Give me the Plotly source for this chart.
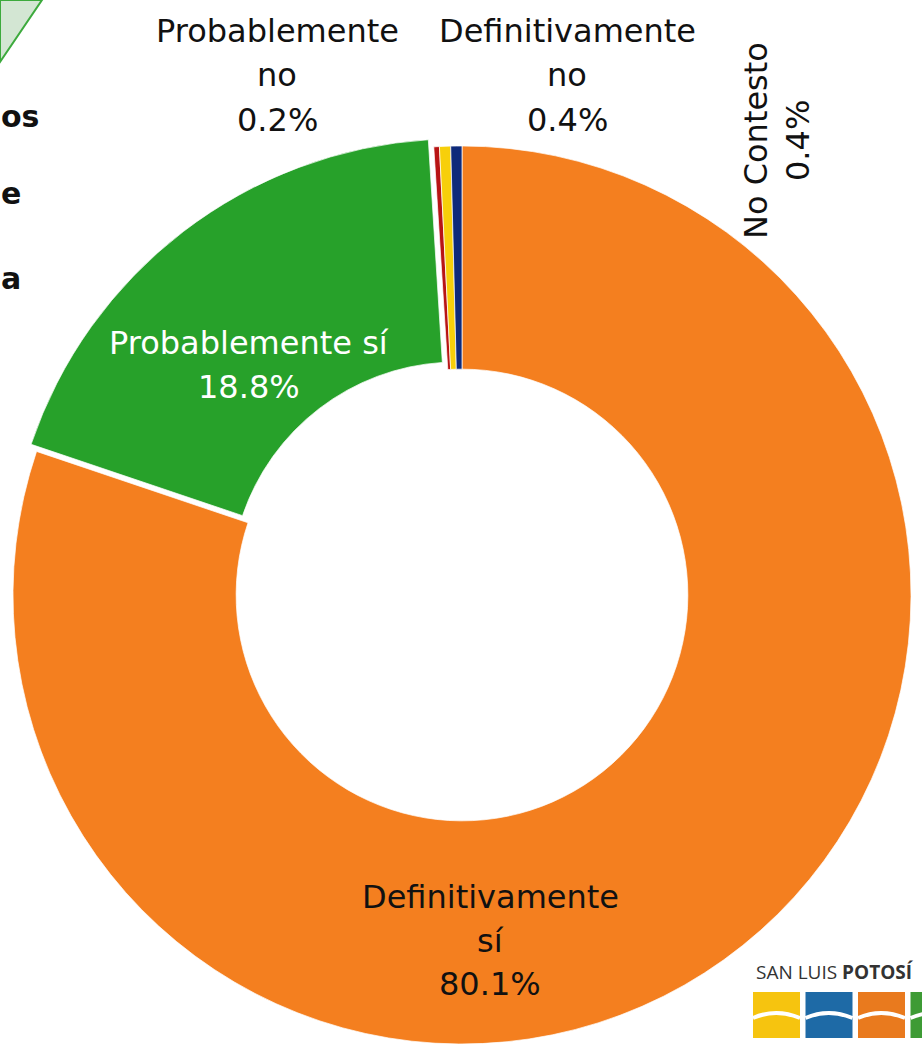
import plotly.graph_objects as go

W, H = 922, 1053

categories = ["Definitivamente sí", "Probablemente sí", "Probablemente no", "Definitivamente no", "No Contesto"]
values = [80.1, 18.8, 0.2, 0.4, 0.4]
colors = ["#F47F1F", "#27A12A", "#B81414", "#F7CF0A", "#0E2A7A"]
pulls = [0, 0.02, 0, 0, 0]

# label lines: (text, x, y, color, angle)
label_lines = [
    ("Definitivamente", 490, 897, "#111111", 0),
    ("sí", 490, 941, "#111111", 0),
    ("80.1%", 490, 984, "#111111", 0),
    ("Probablemente sí", 249, 343, "#FFFFFF", 0),
    ("18.8%", 249, 387, "#FFFFFF", 0),
    ("Probablemente", 277, 31, "#111111", 0),
    ("no", 277, 75, "#111111", 0),
    ("0.2%", 277, 120, "#111111", 0),
    ("Definitivamente", 567, 31, "#111111", 0),
    ("no", 567, 75, "#111111", 0),
    ("0.4%", 567, 120, "#111111", 0),
    ("No Contesto", 756, 141, "#111111", -90),
    ("0.4%", 798, 141, "#111111", -90),
]

def px(x, y):
    return x / W, 1 - y / H

fig = go.Figure()
fig.add_trace(go.Pie(
    labels=categories, values=values, sort=False, direction="clockwise", rotation=0,
    hole=0.503, pull=pulls, textinfo="none", hoverinfo="label+percent",
    marker=dict(colors=colors, line=dict(color="rgba(255,255,255,0.7)", width=1)),
    domain=dict(x=[3 / W, 921 / W], y=[0, 916 / H]),
    showlegend=False,
))

for t, x, y, c, a in label_lines:
    ax, ay = px(x, y)
    fig.add_annotation(text=t, x=ax, y=ay, xref="paper", yref="paper", showarrow=False,
                       xanchor="center", yanchor="middle", textangle=a,
                       font=dict(family="DejaVu Sans", size=32, color=c))

# slide text fragments at left edge
for t, y in [("os", 116), ("e", 193), ("a", 279)]:
    ax, ay = px(0, y)
    fig.add_annotation(text="<b>" + t + "</b>", x=ax, y=ay, xref="paper", yref="paper",
                       showarrow=False, xanchor="left", yanchor="middle", borderpad=0,
                       font=dict(family="DejaVu Sans", size=30, color="#111111"))

shapes = [
    dict(type="path", xref="paper", yref="paper", layer="below",
         path="M 0 1 L %f 1 L 0 %f Z" % (42 / W, 1 - 62 / H),
         fillcolor="#D3E6D3", line=dict(color="#3DAA3D", width=2)),
]
# logo blocks
logo_cols = ["#F6C40F", "#1E6AA6", "#E97A1E", "#3E9B35"]
for i, col in enumerate(logo_cols):
    x0 = 753 + i * 52.5
    shapes.append(dict(type="rect", xref="paper", yref="paper",
                       x0=x0 / W, x1=(x0 + 47) / W, y0=1 - 1038 / H, y1=1 - 992 / H,
                       fillcolor=col, line=dict(width=0)))
    shapes.append(dict(type="path", xref="paper", yref="paper",
                       path="M %f %f Q %f %f %f %f" % (x0 / W, 1 - 1018 / H, (x0 + 23) / W, 1 - 1008 / H,
                                                     (x0 + 47) / W, 1 - 1018 / H),
                       line=dict(color="white", width=4)))
fig.update_layout(shapes=shapes)
lx, ly = px(754, 972)
fig.add_annotation(text="SAN LUIS <b>POTOSÍ</b>", x=lx, y=ly, xref="paper", yref="paper",
                   showarrow=False, xanchor="left", yanchor="middle",
                   font=dict(family="Open Sans", size=19, color="#333333"))

fig.update_layout(width=W, height=H, margin=dict(l=0, r=0, t=0, b=0),
                  paper_bgcolor="white", plot_bgcolor="white")
fig.write_html("out.html", config={"displayModeBar": False},
               post_script="document.body.style.margin='0';")
